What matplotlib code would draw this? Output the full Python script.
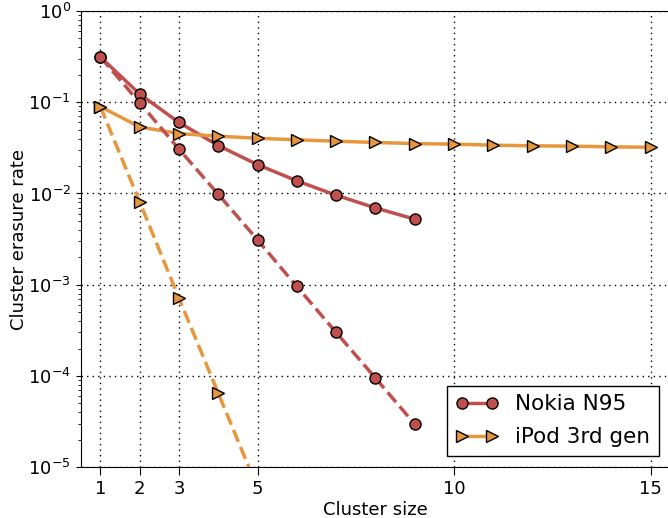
import matplotlib
matplotlib.use("Agg")
import matplotlib.pyplot as plt

# cluster sizes
x_nokia = [1, 2, 3, 4, 5, 6, 7, 8, 9]
x_ipod = [1, 2, 3, 4, 5, 6, 7, 8, 9, 10, 11, 12, 13, 14, 15]
x_ipod_dash = [1, 2, 3, 4, 5]

# solid curves
nokia = [0.313, 0.123, 0.060, 0.0335, 0.0207, 0.01375, 0.00957, 0.00695, 0.00523]
ipod = [0.0895, 0.0536, 0.0453, 0.0424, 0.0403, 0.0387, 0.0374, 0.0362,
        0.0352, 0.0347, 0.0338, 0.0333, 0.0330, 0.0324, 0.0321]

# dashed curves
nokia_dash = [0.313, 0.099, 0.0306, 0.0098, 0.0031, 0.000957, 0.0003, 9.5e-5, 2.97e-5]
ipod_dash = [0.0895, 0.0081, 0.000713, 6.5e-5, 5.9e-6]

red = "#c0504d"
orange = "#e8963c"

fig = plt.figure(figsize=(6.68, 5.18), dpi=100)
ax = fig.add_axes([0.1208, 0.0979, 0.8825, 0.881])

ax.plot(x_nokia, nokia, "-o", color=red, lw=2.5, ms=8, mfc=red, mec="black",
        mew=1, label="Nokia N95")
ax.plot(x_ipod, ipod, "->", color=orange, lw=2.5, ms=8, mfc=orange, mec="black",
        mew=1, label="iPod 3rd gen")
ax.plot(x_nokia, nokia_dash, "--o", color=red, lw=2.5, ms=8, mfc=red, mec="black",
        mew=1)
ax.plot(x_ipod_dash, ipod_dash, "-->", color=orange, lw=2.5, ms=8, mfc=orange,
        mec="black", mew=1)

ax.set_yscale("log")
ax.set_ylim(1e-5, 1)
ax.set_xlim(0.5, 15.5)
ax.set_xticks([1, 2, 3, 5, 10, 15])
ax.grid(True, which="major", linestyle=(0, (1, 3)), color="black", lw=1)
ax.tick_params(labelsize=13, direction="out", which="both")
ax.tick_params(axis="x", which="major", length=6)
ax.set_xlabel("Cluster size", fontsize=13, labelpad=2)
ax.set_ylabel("Cluster erasure rate", fontsize=13, labelpad=0)

leg = ax.legend(loc="lower right", numpoints=2, fontsize=15.5, fancybox=False,
                framealpha=1, edgecolor="black", borderaxespad=0,
                labelspacing=0.6, bbox_to_anchor=(0.981, 0.025))
leg.get_frame().set_linewidth(1)

fig.savefig("out.png", dpi=100)
